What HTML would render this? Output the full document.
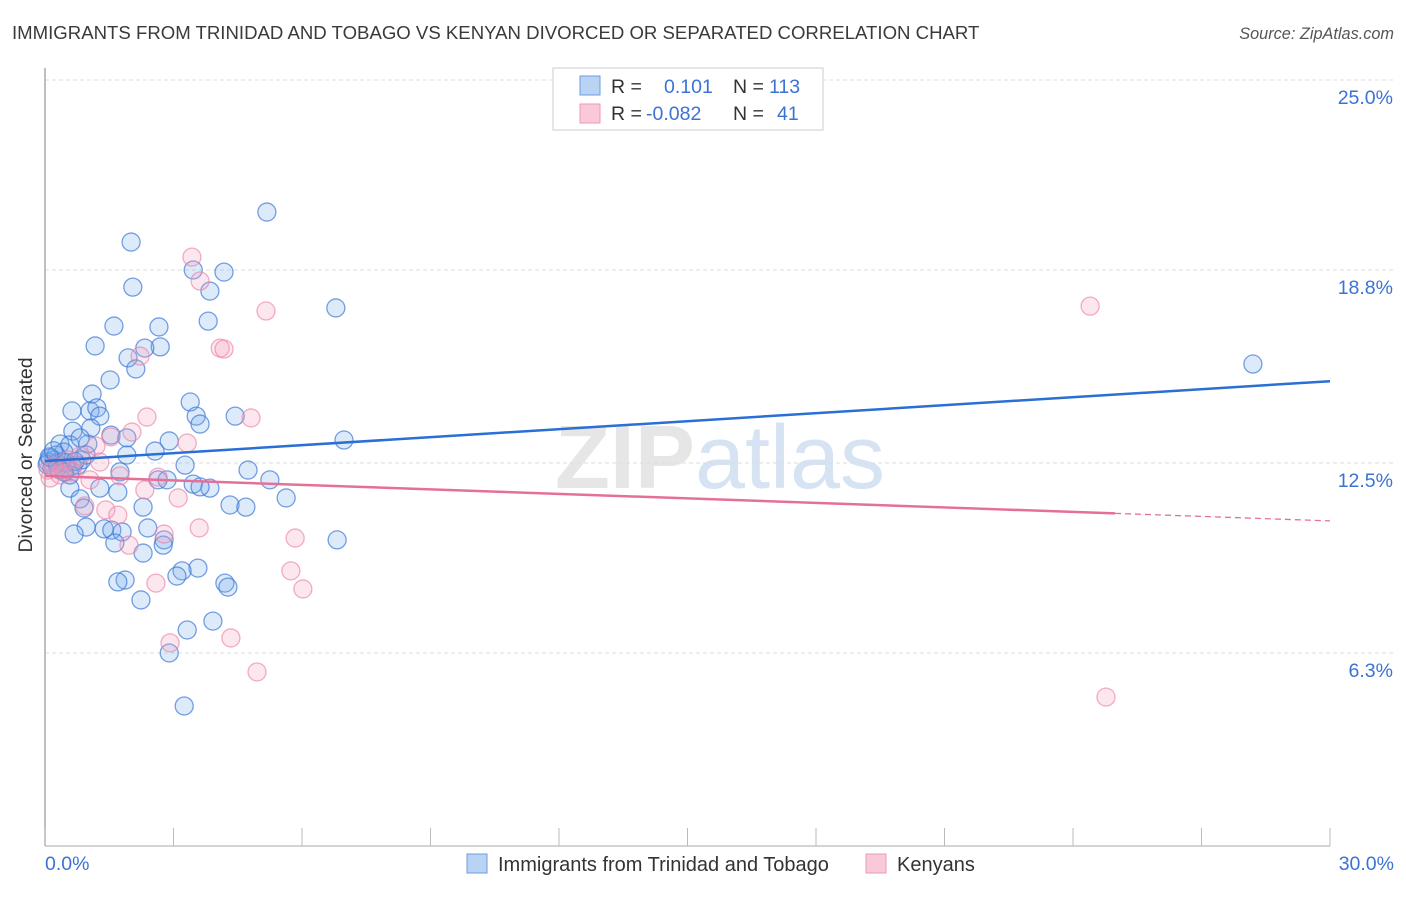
<!DOCTYPE html>
<html><head><meta charset="utf-8"><style>
body{margin:0;background:#fff;font-family:"Liberation Sans",sans-serif;}
svg text{font-family:"Liberation Sans",sans-serif;}
</style></head><body>
<svg id="chart" width="1406" height="892" xmlns="http://www.w3.org/2000/svg">
<text x="12" y="39" font-size="18.6" fill="#3a3a3a">IMMIGRANTS FROM TRINIDAD AND TOBAGO VS KENYAN DIVORCED OR SEPARATED CORRELATION CHART</text>
<text x="1394" y="39" font-size="16.3" fill="#555" text-anchor="end" font-style="italic">Source: ZipAtlas.com</text>
<text x="720" y="488" font-size="90" text-anchor="middle" fill="#e6e6e6" font-family="Liberation Serif"><tspan font-weight="bold">ZIP</tspan><tspan fill="#d6e3f3" font-family="Liberation Sans">atlas</tspan></text>
<g id="grid"></g>
<line x1="45" y1="68" x2="45" y2="846" stroke="#aaa" stroke-width="1.5"/>
<line x1="45" y1="846" x2="1330" y2="846" stroke="#aaa" stroke-width="1"/>
<g id="xticks"></g>
<text transform="translate(34,455) rotate(-90)" font-size="19.5" fill="#333" text-anchor="middle" dy="-2">Divorced or Separated</text>
<text x="45" y="870" font-size="19.5" fill="#3b73d4">0.0%</text>
<text x="1394" y="870" font-size="19.5" fill="#3b73d4" text-anchor="end">30.0%</text>
<g id="points"></g>
<g id="trends"></g>
<g>
<rect x="553" y="68" width="270" height="62" fill="#fff" stroke="#ccc"/>
<rect x="580" y="76" width="20" height="19" fill="#b9d3f5" stroke="#6a9be0"/>
<rect x="580" y="104" width="20" height="19" fill="#f9c9d8" stroke="#ec9ab5"/>
<text x="611" y="93" font-size="19.5" fill="#333">R = </text><text x="664" y="93" font-size="19.5" fill="#3b73d4">0.101</text>
<text x="733" y="93" font-size="19.5" fill="#333">N = </text><text x="769" y="93" font-size="19.5" fill="#3b73d4">113</text>
<text x="611" y="120" font-size="19.5" fill="#333">R = </text><text x="646" y="120" font-size="19.5" fill="#3b73d4">-0.082</text>
<text x="733" y="120" font-size="19.5" fill="#333">N = </text><text x="777" y="120" font-size="19.5" fill="#3b73d4">41</text>
</g>
<g>
<rect x="467" y="854" width="20" height="19" fill="#b9d3f5" stroke="#6a9be0"/>
<text x="498" y="871" font-size="20" fill="#333">Immigrants from Trinidad and Tobago</text>
<rect x="866" y="854" width="20" height="19" fill="#f9c9d8" stroke="#ec9ab5"/>
<text x="897" y="871" font-size="20" fill="#333">Kenyans</text>
</g>
</svg>
<script>
const yTicks=[25.0,18.8,12.5,6.3];
const yTickLabels=["25.0%","18.8%","12.5%","6.3%"];
const xTicks=[0,3,6,9,12,15,18,21,24,27,30];
const blueX=[5.18,2.01,2.05,3.46,4.18,3.85,6.79,1.61,2.66,3.81,1.17,2.69,1.94,2.33,2.12,1.52,1.10,3.39,0.63,1.05,1.21,3.53,4.44,3.62,1.28,0.65,1.07,1.54,1.91,2.90,6.98,0.35,0.58,1.00,0.82,2.57,1.91,3.27,4.74,5.25,1.75,2.64,2.85,3.46,3.85,3.62,1.28,1.70,0.58,0.82,5.63,4.32,4.69,2.29,0.91,0.96,0.68,1.38,1.56,1.80,2.40,2.78,2.76,1.63,2.29,6.82,3.57,3.20,3.08,4.20,4.27,1.87,1.70,2.24,3.92,3.32,2.90,3.25,28.2,0.12,0.21,0.07,0.16,0.28,0.40,0.49,0.63,0.77,0.86,0.96,0.44,0.26,0.58,0.35,0.05,0.10,0.30,0.20,0.45,0.70];
const blueY=[20.69,19.71,18.24,18.80,18.73,18.11,17.56,16.97,16.94,17.13,16.32,16.29,15.93,16.25,15.57,15.21,14.75,14.49,14.20,14.20,14.30,14.03,14.03,13.77,14.03,13.54,13.64,13.41,13.32,13.22,13.25,13.12,13.09,13.12,13.32,12.89,12.76,12.43,12.27,11.95,12.21,11.95,11.95,11.81,11.68,11.72,11.68,11.55,11.68,11.33,11.36,11.13,11.06,11.06,11.03,10.41,10.18,10.35,10.31,10.25,10.38,9.99,9.82,9.89,9.56,9.99,9.07,8.98,8.81,8.58,8.45,8.68,8.62,8.03,7.34,7.05,6.30,4.57,15.73,12.66,12.60,12.53,12.34,12.50,12.53,12.50,12.40,12.43,12.60,12.76,12.86,12.76,12.11,12.27,12.45,12.70,12.35,12.90,12.20,12.55];
const pinkX=[3.43,3.62,5.16,4.09,4.18,2.22,2.38,4.81,3.32,2.03,1.19,1.54,0.54,0.82,1.28,0.35,0.12,0.63,1.75,2.64,2.33,3.11,0.93,1.42,1.70,1.96,2.78,3.60,5.84,2.59,5.74,6.02,2.92,4.34,4.95,24.4,24.77,0.07,0.42,1.05,0.20];
const pinkY=[19.22,18.44,17.46,16.25,16.22,15.99,14.00,13.97,13.15,13.51,13.05,13.35,12.60,12.73,12.53,12.11,12.01,12.21,12.08,12.04,11.62,11.36,11.10,10.97,10.80,9.82,10.18,10.38,10.05,8.58,8.98,8.39,6.63,6.79,5.68,17.62,4.86,12.27,12.27,11.95,12.40];
const blueTrend=[12.56,15.17];
const pinkTrend=[12.08,10.61];
const pinkSolidEnd=24.98;

const NS="http://www.w3.org/2000/svg";
const X=v=>45+v*(1285/30);
const Y=v=>846-v*(766/25);
function mk(tag,attrs,parent){const e=document.createElementNS(NS,tag);for(const k in attrs)e.setAttribute(k,attrs[k]);parent.appendChild(e);return e;}
const grid=document.getElementById('grid');
yTicks.forEach((t,i)=>{
 const l=mk('line',{x1:45,x2:1394,y1:Y(t),y2:Y(t),stroke:'#ddd','stroke-dasharray':'4,3'},grid);
 
 
 const tx=mk('text',{x:1393,y:Y(t)+24,'font-size':19.5,fill:'#3b73d4','text-anchor':'end'},grid);
 tx.textContent=yTickLabels[i];
 
 
});
const xt=document.getElementById('xticks');
xTicks.forEach(t=>{
 const l=mk('line',{x1:X(t),x2:X(t),y1:828,y2:846,stroke:'#bbb'},xt);
 
 
});
const pts=document.getElementById('points');
blueX.forEach((x,i)=>{
 const c=mk('circle',{cx:X(x),cy:Y(blueY[i]),r:9,fill:'rgba(120,170,235,0.25)',stroke:'rgba(60,120,215,0.7)','stroke-width':1.3},pts);
 
 
});
pinkX.forEach((x,i)=>{
 const c=mk('circle',{cx:X(x),cy:Y(pinkY[i]),r:9,fill:'rgba(245,160,190,0.25)',stroke:'rgba(235,130,165,0.65)','stroke-width':1.3},pts);
 
 
});
const tr=document.getElementById('trends');
const bl=mk('line',{x1:X(0),y1:Y(blueTrend[0]),x2:X(30),y2:Y(blueTrend[1]),stroke:'#2a6fd4','stroke-width':2.5},tr);


const pe=pinkTrend[0]+(pinkTrend[1]-pinkTrend[0])*pinkSolidEnd/30;
const pl=mk('line',{x1:X(0),y1:Y(pinkTrend[0]),x2:X(pinkSolidEnd),y2:Y(pe),stroke:'#e4709a','stroke-width':2.5},tr);


const pd=mk('line',{x1:X(pinkSolidEnd),y1:Y(pe),x2:X(30),y2:Y(pinkTrend[1]),stroke:'#e4709a','stroke-width':1.3,'stroke-dasharray':'6,4'},tr);


</script>
</body></html>
